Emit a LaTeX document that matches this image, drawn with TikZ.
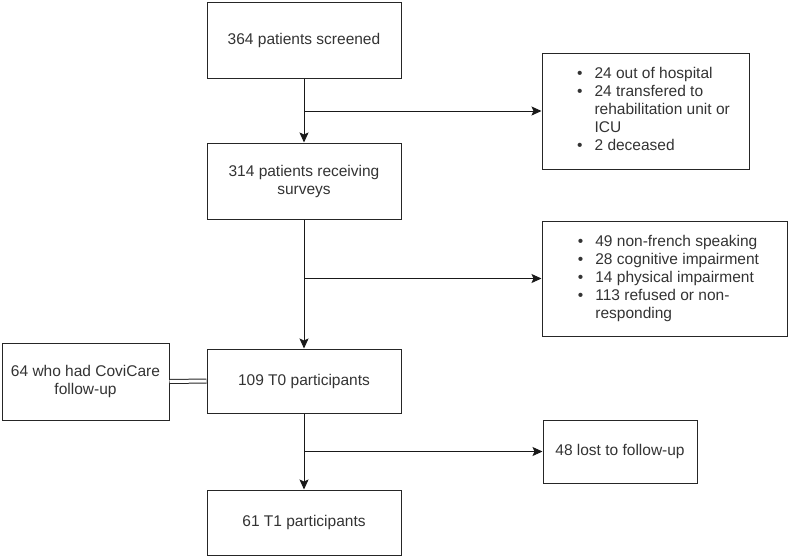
\documentclass[tikz,border=0pt]{standalone}
\usepackage{fontspec}
\setmainfont{Liberation Sans}
\usetikzlibrary{arrows.meta}

\begin{document}
\begin{tikzpicture}[x=1pt, y=-1pt,
    every node/.style={font=\fontsize{15.5}{18}\selectfont, text=black!80},
    box/.style={draw=black!85, line width=1pt, align=center, inner sep=0pt},
    arr/.style={-{Stealth[length=10pt, width=9pt, inset=2pt]}, line width=1pt, draw=black!90}]

    \useasboundingbox (0,0) rectangle (789,557);

    % Main column
    \node[box, minimum width=194pt, minimum height=76pt]
        (screened) at (304,40) {364 patients screened};
    \node[box, minimum width=194pt, minimum height=76pt]
        (surveys) at (304,181) {314 patients receiving\\surveys};
    \node[box, minimum width=194pt, minimum height=64pt]
        (tzero) at (304,381) {109 T0 participants};
    \node[box, minimum width=194pt, minimum height=65pt]
        (tone) at (304,522.5) {61 T1 participants};

    % Exclusions
    \node[box, minimum width=207pt, minimum height=116pt]
        (excla) at (645.5,111) {\hspace*{16pt}\begin{tabular}{@{}l@{\hspace{12pt}}l@{}}
            \textbullet & 24 out of hospital\\
            \textbullet & 24 transfered to\\
                        & rehabilitation unit or\\
                        & ICU\\
            \textbullet & 2 deceased
        \end{tabular}};
    \node[box, minimum width=245pt, minimum height=115pt]
        (exclb) at (664.5,278.5) {\hspace*{8pt}\begin{tabular}{@{}l@{\hspace{12pt}}l@{}}
            \textbullet & 49 non-french speaking\\
            \textbullet & 28 cognitive impairment\\
            \textbullet & 14 physical impairment\\
            \textbullet & 113 refused or non-\\
                        & responding
        \end{tabular}};
    \node[box, minimum width=154pt, minimum height=63pt]
        (lost) at (620,451.5) {48 lost to follow-up};

    % CoviCare subgroup
    \node[box, minimum width=167pt, minimum height=77pt]
        (covi) at (85.5,381.5) {64 who had CoviCare\\follow-up};

    % Arrows
    \draw[arr] (screened) -- (surveys);
    \draw[arr] (surveys) -- (tzero);
    \draw[arr] (tzero) -- (tone);
    \draw[arr] (screened.south |- excla.west) -- (excla.west);
    \draw[arr] (surveys.south |- exclb.west) -- (exclb.west);
    \draw[arr] (tzero.south |- lost.west) -- (lost.west);

    % Double link
    \draw[double, double distance=3pt, line width=1pt, draw=black!85] (covi.east) -- (tzero.west);
\end{tikzpicture}
\end{document}
